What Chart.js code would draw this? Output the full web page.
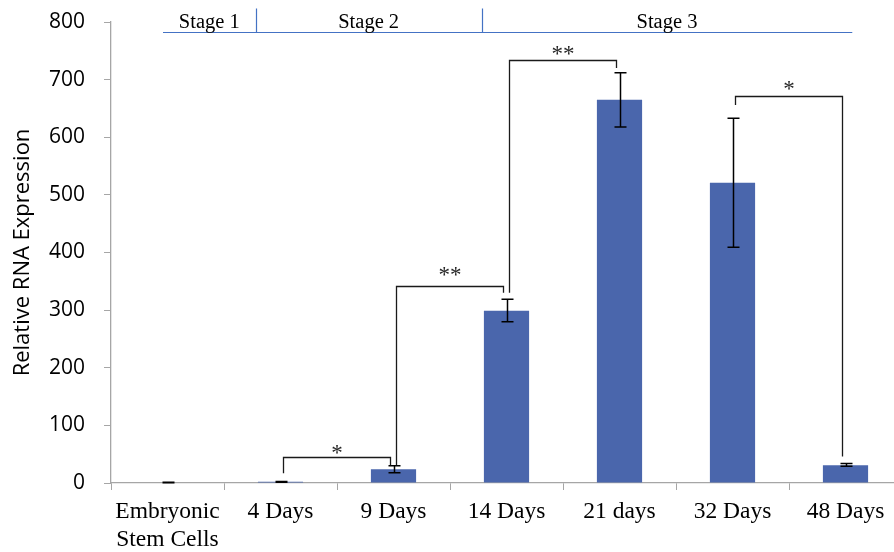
<!DOCTYPE html>
<html>
<head>
<meta charset="utf-8">
<script src="https://cdn.jsdelivr.net/npm/chart.js@4/dist/chart.umd.min.js"></script>
<style>
  html, body { margin: 0; padding: 0; background: #fff; overflow: hidden; }
  #wrap { width: 902px; height: 552px; }
</style>
</head>
<body>
<div id="wrap"><canvas id="c" width="902" height="552"></canvas></div>
<script>
// ---- data ----
const categories = [['Embryonic', 'Stem Cells'], '4 Days', '9 Days', '14 Days', '21 days', '32 Days', '48 Days'];
const means   = [1, 2, 24, 299, 665, 521, 31];
const errLow  = [0.5, 1.4, 18, 280, 618, 409, 29];
const errHigh = [1.5, 2.6, 30, 319, 712, 633, 34];
const yTicks = [0, 100, 200, 300, 400, 500, 600, 700, 800];

// significance brackets (category indices, bracket level, leg ends and label centre in data units)
const bracketFrom     = [1, 2, 3, 5];
const bracketTo       = [2, 3, 4, 6];
const bracketLevel    = [45, 342, 734, 672];
const bracketFromEnd  = [17, 31, 330, 656];
const bracketToEnd    = [31, 330, 720, 46];
const bracketLabelAt  = [56, 365, 749, 688];
const bracketLabels   = ['*', '**', '**', '*'];

// stage header (bounds in fractional category positions)
const stageNames  = ['Stage 1', 'Stage 2', 'Stage 3'];
const stageBounds = [-0.04, 0.78, 2.78, 6.06];

const overlay = {
  id: 'overlay',
  afterDatasetsDraw(chart) {
    const ctx = chart.ctx;
    const xs = chart.scales.x, ys = chart.scales.y;
    const p0 = xs.getPixelForValue(0), p1 = xs.getPixelForValue(1);
    const fx = f => p0 + f * (p1 - p0);
    ctx.save();
    // error bars
    ctx.strokeStyle = '#000';
    ctx.lineWidth = 1.5;
    for (let i = 0; i < means.length; i++) {
      const x = Math.round(xs.getPixelForValue(i)) + 0.5;
      const yl = ys.getPixelForValue(errLow[i]);
      const yh = ys.getPixelForValue(errHigh[i]);
      ctx.beginPath();
      ctx.moveTo(x, yl); ctx.lineTo(x, yh);
      ctx.moveTo(x - 6, yl); ctx.lineTo(x + 6, yl);
      ctx.moveTo(x - 6, yh); ctx.lineTo(x + 6, yh);
      ctx.stroke();
    }
    // brackets
    ctx.strokeStyle = '#1a1a1a';
    ctx.lineWidth = 1.3;
    ctx.fillStyle = '#262626';
    ctx.font = '23px "Liberation Serif", "Times New Roman", serif';
    ctx.textAlign = 'center';
    ctx.textBaseline = 'alphabetic';
    for (let k = 0; k < bracketFrom.length; k++) {
      const xa = Math.round(xs.getPixelForValue(bracketFrom[k]) + 2) + 0.5;
      const xb = Math.round(xs.getPixelForValue(bracketTo[k]) - 4) + 0.5;
      const yt = Math.round(ys.getPixelForValue(bracketLevel[k])) + 0.5;
      ctx.beginPath();
      ctx.moveTo(xa, ys.getPixelForValue(bracketFromEnd[k]));
      ctx.lineTo(xa, yt);
      ctx.lineTo(xb, yt);
      ctx.lineTo(xb, ys.getPixelForValue(bracketToEnd[k]));
      ctx.stroke();
      ctx.fillText(bracketLabels[k], (xa + xb) / 2, ys.getPixelForValue(bracketLabelAt[k]) + 9.5);
    }
    // stage header
    const top = chart.chartArea.top;
    const lineY = Math.round(top + 9.5) + 0.5;
    ctx.strokeStyle = '#4472C4';
    ctx.lineWidth = 1.2;
    ctx.beginPath();
    ctx.moveTo(fx(stageBounds[0]), lineY);
    ctx.lineTo(fx(stageBounds[stageBounds.length - 1]), lineY);
    for (let s = 1; s < stageBounds.length - 1; s++) {
      const x = Math.round(fx(stageBounds[s])) + 0.5;
      ctx.moveTo(x, lineY - 24);
      ctx.lineTo(x, lineY);
    }
    ctx.stroke();
    ctx.fillStyle = '#000';
    ctx.font = '20.5px "Liberation Serif", "Times New Roman", serif';
    for (let s = 0; s < stageNames.length; s++) {
      const cx = (fx(stageBounds[s]) + fx(stageBounds[s + 1])) / 2;
      ctx.fillText(stageNames[s], cx, lineY - 5);
    }
    ctx.restore();
  }
};

new Chart(document.getElementById('c'), {
  type: 'bar',
  data: {
    labels: categories,
    datasets: [{
      data: means,
      backgroundColor: '#4A66AC',
      borderWidth: 0,
      barPercentage: 0.4,
      categoryPercentage: 1.0
    }]
  },
  options: {
    responsive: false,
    animation: false,
    devicePixelRatio: 1,
    layout: { padding: { top: 22, right: 0, bottom: 0, left: 10 } },
    plugins: { legend: { display: false }, tooltip: { enabled: false } },
    scales: {
      x: {
        offset: true,
        afterFit: axis => { axis.height = 69; },
        grid: { display: true, drawOnChartArea: false, drawTicks: true, tickLength: 7, color: '#A6A6A6', offset: true },
        border: { display: true, color: '#A6A6A6', width: 1.3 },
        ticks: {
          color: '#000',
          font: { family: '"Liberation Serif", "Times New Roman", serif', size: 23.5, lineHeight: 1.2 },
          padding: 8,
          maxRotation: 0,
          autoSkip: false
        }
      },
      y: {
        min: 0, max: 800,
        afterFit: axis => { axis.width = 101; axis.paddingTop = 0; axis.paddingBottom = 0; },
        afterBuildTicks: axis => { axis.ticks = yTicks.map(v => ({ value: v })); },
        grid: { display: true, drawOnChartArea: false, drawTicks: true, tickLength: 7, color: '#A6A6A6' },
        border: { display: true, color: '#A6A6A6', width: 1.3 },
        ticks: {
          color: '#000',
          font: { family: '"Open Sans", sans-serif', size: 21 },
          padding: 19
        },
        title: {
          display: true,
          text: 'Relative RNA Expression',
          color: '#000',
          font: { family: '"Open Sans", sans-serif', size: 22 },
          padding: { top: 0, bottom: 2 }
        }
      }
    }
  },
  plugins: [overlay]
});
</script>
</body>
</html>
